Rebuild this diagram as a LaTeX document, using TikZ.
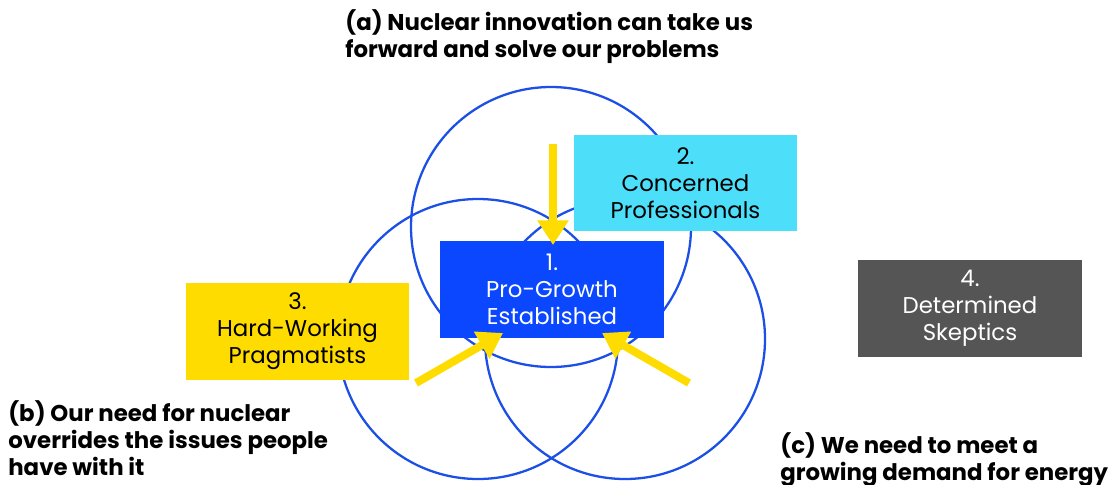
\documentclass[tikz,border=0pt]{standalone}
\usepackage{fontspec}
\setmainfont{Poppins}
\usetikzlibrary{arrows.meta}
\definecolor{ringblue}{HTML}{1C4FE6}
\definecolor{problue}{HTML}{0A47FF}
\definecolor{concyan}{HTML}{4DDFFA}
\definecolor{hardyellow}{HTML}{FFDC00}
\definecolor{skepgrey}{HTML}{555555}
\tikzset{
  segbox/.style={minimum width=4.48cm,minimum height=1.94cm,align=center,inner sep=0pt,
    font=\fontsize{13}{15.4}\selectfont},
  ring/.style={draw=ringblue,line width=1.3pt},
  push/.style={draw=hardyellow,line width=4.5pt,-{Triangle[width=17pt,length=14pt]}},
  claim/.style={anchor=north west,align=left,inner sep=0pt,
    font=\fontsize{13}{15.4}\selectfont\bfseries}
}
\begin{document}
\begin{tikzpicture}[x=0.02cm,y=-0.02cm]
  \useasboundingbox (0,0) rectangle (1108,484);
  \foreach \cx/\cy in {551/227,478/339,625/339}
    \draw[ring] (\cx,\cy) circle (140);
  \node[segbox,fill=problue,text=white] (pro) at (552,289.5) {1.\\Pro-Growth\\Established};
  \node[segbox,fill=concyan] (con) at (685.5,183) {2.\\Concerned\\Professionals};
  \node[segbox,fill=hardyellow] (hard) at (297.5,331) {3.\\Hard-Working\\Pragmatists};
  \node[segbox,fill=skepgrey,text=white] (skep) at (970,308.5) {4.\\Determined\\Skeptics};
  \node[claim] (a) at (345,9) {(a) Nuclear innovation can take us\\forward and solve our problems};
  \node[claim] (b) at (8,400) {(b) Our need for nuclear\\overrides the issues people\\have with it};
  \node[claim] (c) at (780,432) {(c) We need to meet a\\growing demand for energy};
  % arrows into segment 1
  \coordinate (ta) at (553,144);
  \coordinate (tb) at (416,383);
  \coordinate (tc) at (689,383);
  \coordinate (ha) at (553,245);
  \coordinate (hb) at (503,333);
  \coordinate (hc) at (602,333);
  \draw[push] (ta) -- (ha);
  \draw[push] (tb) -- (hb);
  \draw[push] (tc) -- (hc);
\end{tikzpicture}
\end{document}
